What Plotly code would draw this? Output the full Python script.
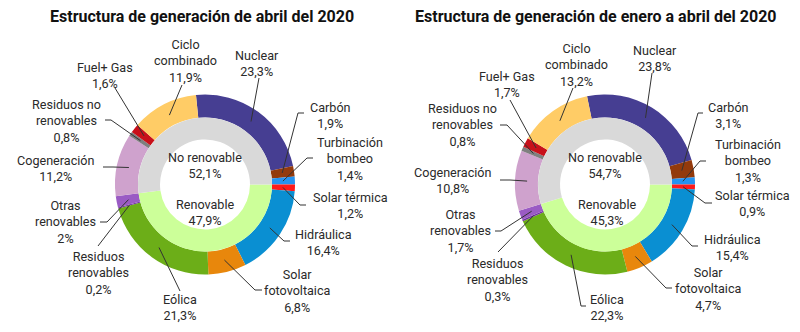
import math
import plotly.graph_objects as go

# ---------------- data ----------------
categories = ["Nuclear", "Carbón", "Turbinación bombeo", "Solar térmica", "Hidráulica",
              "Solar fotovoltaica", "Eólica", "Residuos renovables", "Otras renovables",
              "Cogeneración", "Residuos no renovables", "Fuel+ Gas", "Ciclo combinado"]
label_text = ["Nuclear", "Carbón", "Turbinación<br>bombeo", "Solar térmica", "Hidráulica",
              "Solar<br>fotovoltaica", "Eólica", "Residuos<br>renovables", "Otras<br>renovables",
              "Cogeneración", "Residuos no<br>renovables", "Fuel+ Gas", "Ciclo<br>combinado"]
is_renewable = [False, False, False, True, True, True, True, True, True,
                False, False, False, False]
values_abril = [23.3, 1.9, 1.4, 1.2, 16.4, 6.8, 21.3, 0.2, 2.0, 11.2, 0.8, 1.6, 11.9]
values_ene_abr = [23.8, 3.1, 1.3, 0.9, 15.4, 4.7, 22.3, 0.3, 1.7, 10.8, 0.8, 1.7, 13.2]
group_names = ["Renovable", "No renovable"]
titles = ["Estructura de generación de abril del 2020",
          "Estructura de generación de enero a abril del 2020"]

# ---------------- style ----------------
colors = ["#463E92", "#933A0C", "#2593F0", "#FF1A1A", "#0A8FD2", "#E8870C", "#6CAE18",
          "#7030A0", "#9A5BC4", "#CFA2CD", "#7F7F7F", "#C8101A", "#FFCC66"]
group_colors = ["#CCFF99", "#D9D9D9"]
W, H = 800, 332
R_OUT, R_MID, R_HOLE, R_ANCH = 90, 67, 45, 78
FONT = "Roboto"
TXT = "#2a2a2a"
LAB_SIZE = 12.6
TITLE_SIZE = 16

charts = [
    dict(values=values_abril, title=titles[0], cx=205, cy=184.5, title_x=202,
         lab=[(257, 63), (330, 115), (350, 159), (350, 205.5), (323, 242), (297, 291),
              (180, 307), (98, 273), (65, 222), (55, 168), (66, 121), (105, 75.5), (185, 61)],
         end=[(259, 78), (304, 113), (313, 158), (306, 205), (290, 241), (262, 290),
              (180, 291), (98, 246), (100, 222), (103, 167), (105, 120), (115, 88), (182, 85)],
         elbow=[0, -6, -6, -6, -6, -7, 0, 0, 7, 10, 6, 0, 0],
         center_lab=[(205, 212.5), (205, 165.5)]),
    dict(values=values_ene_abr, title=titles[1], cx=605, cy=184.5, title_x=596,
         lab=[(655, 58.5), (728, 115), (748, 161), (752, 203), (732, 247.5), (708, 289),
              (607, 307), (497, 279.5), (460, 231), (452, 180), (462, 125), (507, 84), (576, 65)],
         end=[(652, 73), (703, 113), (706, 161), (712, 203), (698, 246), (672, 288),
              (586, 306), (498, 252), (495, 231), (500, 180), (500, 125), (510, 100), (573, 88)],
         elbow=[0, -5, -6, -7, -6, -6, -5, 0, 6, 10, 7, 0, 0],
         center_lab=[(607, 212.5), (605, 165.5)]),
]


def fmt(v):
    s = f"{v:.1f}"
    if s.endswith(".0"):
        s = s[:-2]
    return s.replace(".", ",") + "%"


fig = go.Figure()
shapes = []
annotations = []

for ch in charts:
    vals = ch["values"]
    cx, cy = ch["cx"], ch["cy"]
    total = sum(vals)
    first_ren = is_renewable.index(True)
    rot = 90 - 360 * sum(vals[:first_ren]) / total
    ren = round(sum(v for v, r in zip(vals, is_renewable) if r), 1)
    nren = round(sum(v for v, r in zip(vals, is_renewable) if not r), 1)
    grp_vals = [ren, nren]

    dom_out = dict(x=[(cx - R_OUT) / W, (cx + R_OUT) / W],
                   y=[1 - (cy + R_OUT) / H, 1 - (cy - R_OUT) / H])
    dom_in = dict(x=[(cx - R_MID) / W, (cx + R_MID) / W],
                  y=[1 - (cy + R_MID) / H, 1 - (cy - R_MID) / H])

    fig.add_trace(go.Pie(labels=categories, values=vals, sort=False, direction="clockwise",
                         rotation=rot, hole=R_MID / R_OUT, domain=dom_out,
                         marker=dict(colors=colors, line=dict(width=0)),
                         textinfo="none", hoverinfo="label+percent", showlegend=False))
    fig.add_trace(go.Pie(labels=group_names, values=grp_vals, sort=False, direction="clockwise",
                         rotation=90, hole=R_HOLE / R_MID, domain=dom_in,
                         marker=dict(colors=group_colors, line=dict(width=0)),
                         textinfo="none", hoverinfo="label+percent", showlegend=False))

    # labels + leader lines
    cum = 0.0
    for i, v in enumerate(vals):
        mid = math.radians(rot + 360 * (cum + v / 2) / total)
        cum += v
        ax = cx + R_ANCH * math.sin(mid)
        ay = cy - R_ANCH * math.cos(mid)
        ex, ey = ch["end"][i]
        el = ch["elbow"][i]
        if el:
            path = f"M {ax:.1f},{ay:.1f} L {ex + el:.1f},{ey:.1f} L {ex:.1f},{ey:.1f}"
        else:
            path = f"M {ax:.1f},{ay:.1f} L {ex:.1f},{ey:.1f}"
        shapes.append(dict(type="path", path=path, xref="x", yref="y",
                           line=dict(color="#333333", width=1), layer="above"))
        lx, ly = ch["lab"][i]
        annotations.append(dict(x=lx, y=ly, xref="x", yref="y", showarrow=False,
                                text=f"{label_text[i]}<br>{fmt(v)}",
                                xanchor="center", yanchor="middle", align="center",
                                font=dict(family=FONT, size=LAB_SIZE, color=TXT)))
    for j, gname in enumerate(group_names):
        lx, ly = ch["center_lab"][j]
        annotations.append(dict(x=lx, y=ly, xref="x", yref="y", showarrow=False,
                                text=f"{gname}<br>{fmt(grp_vals[j])}",
                                xanchor="center", yanchor="middle", align="center",
                                font=dict(family=FONT, size=LAB_SIZE, color=TXT)))
    annotations.append(dict(x=ch["title_x"], y=16, xref="x", yref="y", showarrow=False,
                            text=f"<b>{ch['title']}</b>", xanchor="center", yanchor="middle",
                            font=dict(family=FONT, size=TITLE_SIZE, color="#111111")))

fig.update_layout(
    width=W, height=H, margin=dict(l=0, r=0, t=0, b=0),
    paper_bgcolor="white", plot_bgcolor="white",
    xaxis=dict(range=[0, W], visible=False, fixedrange=True),
    yaxis=dict(range=[H, 0], visible=False, fixedrange=True),
    shapes=shapes, annotations=annotations, showlegend=False,
)

fig.write_html("out.html")
